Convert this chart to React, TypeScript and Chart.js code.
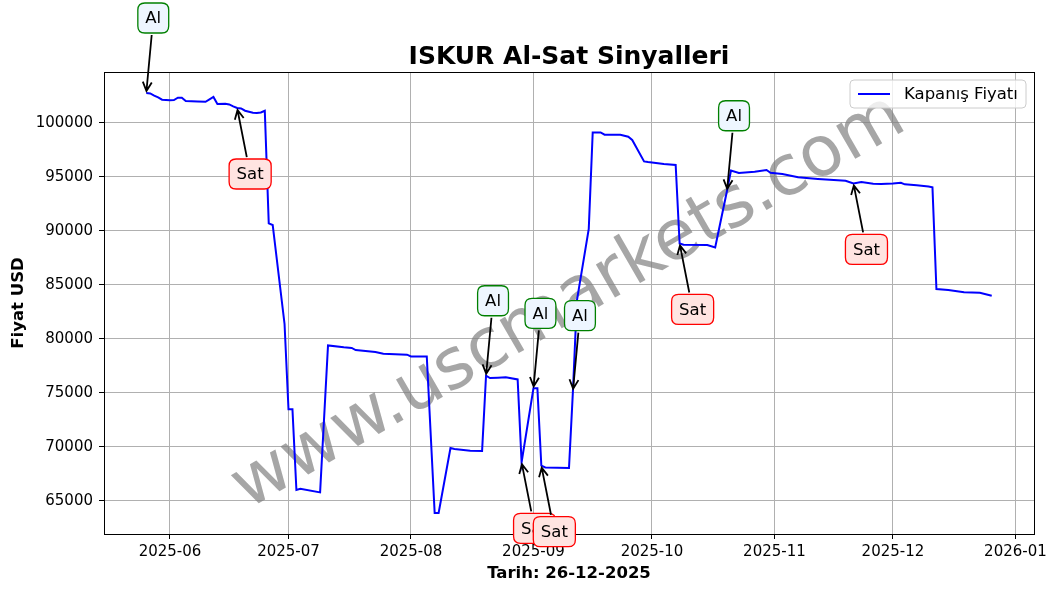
import { useEffect, useRef } from 'react';
import { Chart, registerables } from 'chart.js';

Chart.register(...registerables);

const chartTitle = 'ISKUR Al-Sat Sinyalleri';
const xTitle = 'Tarih: 26-12-2025';
const yTitle = 'Fiyat USD';
const seriesLabel = 'Kapanış Fiyatı';
const watermark = 'www.uscmarkets.com';

const dates = [
  '2025-05-26', '2025-05-27', '2025-05-28', '2025-05-29', '2025-05-30', '2025-06-01', '2025-06-02',
  '2025-06-03', '2025-06-04', '2025-06-05', '2025-06-08', '2025-06-10', '2025-06-11', '2025-06-12',
  '2025-06-13', '2025-06-15', '2025-06-16', '2025-06-17', '2025-06-18', '2025-06-19', '2025-06-20',
  '2025-06-22', '2025-06-23', '2025-06-24', '2025-06-25', '2025-06-26', '2025-06-27', '2025-06-30',
  '2025-07-01', '2025-07-02', '2025-07-03', '2025-07-04', '2025-07-09', '2025-07-11', '2025-07-15',
  '2025-07-17', '2025-07-18', '2025-07-23', '2025-07-25', '2025-07-31', '2025-08-01', '2025-08-05',
  '2025-08-07', '2025-08-08', '2025-08-11', '2025-08-12', '2025-08-16', '2025-08-19', '2025-08-20',
  '2025-08-21', '2025-08-23', '2025-08-25', '2025-08-28', '2025-08-29', '2025-09-01', '2025-09-02',
  '2025-09-03', '2025-09-04', '2025-09-10', '2025-09-11', '2025-09-12', '2025-09-15', '2025-09-16',
  '2025-09-18', '2025-09-19', '2025-09-23', '2025-09-25', '2025-09-26', '2025-09-29', '2025-09-30',
  '2025-10-02', '2025-10-04', '2025-10-07', '2025-10-08', '2025-10-09', '2025-10-15', '2025-10-17',
  '2025-10-20', '2025-10-21', '2025-10-23', '2025-10-27', '2025-10-30', '2025-10-31', '2025-11-03',
  '2025-11-07', '2025-11-12', '2025-11-19', '2025-11-21', '2025-11-23', '2025-11-26', '2025-11-28',
  '2025-12-01', '2025-12-03', '2025-12-04', '2025-12-07', '2025-12-10', '2025-12-11', '2025-12-12',
  '2025-12-15', '2025-12-19', '2025-12-23', '2025-12-26',
];

const prices = [
  102750, 102710, 102500, 102340, 102130, 102070, 102100,
  102310, 102310, 102010, 101970, 101940, 102160, 102380,
  101730, 101760, 101690, 101510, 101360, 101320, 101110,
  100930, 100900, 100950, 101110, 90680, 90530, 81360,
  73460, 73460, 65990, 66110, 65770, 79380, 79200,
  79140, 78950, 78770, 78610, 78520, 78360, 78360,
  63860, 63860, 69880, 69790, 69630, 69600, 76570,
  76360, 76390, 76420, 76230, 68550, 75400, 75400,
  68240, 68080, 68030, 75190, 83520, 90160, 99100,
  99100, 98890, 98890, 98700, 98400, 96420, 96360,
  96270, 96180, 96080, 88820, 88700, 88680, 88450,
  93700, 95560, 95340, 95460, 95620, 95370, 95250,
  94940, 94790, 94630, 94380, 94510, 94350, 94320,
  94380, 94440, 94290, 94200, 94100, 94010, 84600,
  84510, 84290, 84260, 83980,
];

const buyDates = ['2025-05-26', '2025-08-20', '2025-09-01', '2025-09-11', '2025-10-20'];
const sellDates = ['2025-06-18', '2025-08-29', '2025-09-03', '2025-10-08', '2025-11-21'];
const buyLabel = 'Al';
const sellLabel = 'Sat';

const monthTicks = [
  '2025-06-01', '2025-07-01', '2025-08-01', '2025-09-01', '2025-10-01', '2025-11-01', '2025-12-01', '2026-01-01',
];
const yTicks = [65000, 70000, 75000, 80000, 85000, 90000, 95000, 100000];

const FONT = '"DejaVu Sans", sans-serif';
const ts = (d: string) => Date.parse(d + 'T00:00:00Z');

function roundRect(ctx: CanvasRenderingContext2D, x: number, y: number, w: number, h: number, r: number) {
  ctx.beginPath();
  ctx.moveTo(x + r, y);
  ctx.lineTo(x + w - r, y);
  ctx.quadraticCurveTo(x + w, y, x + w, y + r);
  ctx.lineTo(x + w, y + h - r);
  ctx.quadraticCurveTo(x + w, y + h, x + w - r, y + h);
  ctx.lineTo(x + r, y + h);
  ctx.quadraticCurveTo(x, y + h, x, y + h - r);
  ctx.lineTo(x, y + r);
  ctx.quadraticCurveTo(x, y, x + r, y);
  ctx.closePath();
}

function drawSignal(
  chart: any, date: string, text: string, dx: number, dy: number, fill: string, edge: string,
) {
  const ctx: CanvasRenderingContext2D = chart.ctx;
  const i = dates.indexOf(date);
  if (i < 0) return;
  const px = chart.scales.x.getPixelForValue(ts(date));
  const py = chart.scales.y.getPixelForValue(prices[i]);
  const cx = px + dx;
  const cy = py + dy;
  ctx.save();
  ctx.font = `16.5px ${FONT}`;
  const tw = ctx.measureText(text).width;
  const pad = 7.5;
  const bw = tw + pad * 2;
  const bh = 15 + pad * 2;
  // arrow
  const vx = px - cx;
  const vy = py - cy;
  const len = Math.hypot(vx, vy);
  const ux = vx / len;
  const uy = vy / len;
  const t = Math.min(bw / 2 / Math.abs(vx || 1e-9), bh / 2 / Math.abs(vy || 1e-9));
  const sx = cx + vx * t + ux * 2;
  const sy = cy + vy * t + uy * 2;
  const ex = px - ux * 2;
  const ey = py - uy * 2;
  ctx.strokeStyle = '#000';
  ctx.lineWidth = 1.8;
  ctx.lineCap = 'butt';
  ctx.beginPath();
  ctx.moveTo(sx, sy);
  ctx.lineTo(ex, ey);
  const hl = 9;
  const hw = 4.5;
  const nx = -uy;
  const ny = ux;
  ctx.moveTo(ex - ux * hl + nx * hw, ey - uy * hl + ny * hw);
  ctx.lineTo(ex, ey);
  ctx.lineTo(ex - ux * hl - nx * hw, ey - uy * hl - ny * hw);
  ctx.stroke();
  // box
  roundRect(ctx, cx - bw / 2, cy - bh / 2, bw, bh, 7);
  ctx.fillStyle = fill;
  ctx.fill();
  ctx.strokeStyle = edge;
  ctx.lineWidth = 1.3;
  ctx.stroke();
  ctx.fillStyle = '#000';
  ctx.textAlign = 'center';
  ctx.textBaseline = 'middle';
  ctx.fillText(text, cx, cy + 1);
  ctx.restore();
}

const overlay = {
  id: 'overlay',
  beforeDatasetsDraw(chart: any) {
    const { ctx, chartArea: a } = chart;
    ctx.save();
    ctx.translate((a.left + a.right) / 2, (a.top + a.bottom) / 2);
    ctx.rotate((-30 * Math.PI) / 180);
    ctx.font = `70px ${FONT}`;
    ctx.fillStyle = 'rgba(128,128,128,0.7)';
    ctx.textAlign = 'center';
    ctx.textBaseline = 'middle';
    ctx.fillText(watermark, 0, 0);
    ctx.restore();
  },
  afterDatasetsDraw(chart: any) {
    const { ctx, chartArea: a } = chart;
    ctx.save();
    ctx.strokeStyle = '#000';
    ctx.lineWidth = 1;
    ctx.strokeRect(Math.round(a.left) + 0.5, Math.round(a.top) + 0.5, Math.round(a.right - a.left), Math.round(a.bottom - a.top));
    ctx.restore();
  },
  afterDraw(chart: any) {
    const { ctx, chartArea: a } = chart;
    const midX = (a.left + a.right) / 2;
    const midY = (a.top + a.bottom) / 2;
    ctx.save();
    ctx.fillStyle = '#000';
    ctx.textAlign = 'center';
    ctx.textBaseline = 'alphabetic';
    ctx.font = `bold 25px ${FONT}`;
    ctx.fillText(chartTitle, midX, a.top - 8);
    ctx.font = `bold 16.5px ${FONT}`;
    ctx.fillText(xTitle, midX, 578);
    ctx.save();
    ctx.translate(23, midY);
    ctx.rotate(-Math.PI / 2);
    ctx.fillText(yTitle, 0, 0);
    ctx.restore();

    // legend
    const lx = a.right - 184;
    const ly = a.top + 8;
    const lw = 176;
    const lh = 28;
    roundRect(ctx, lx, ly, lw, lh, 4);
    ctx.fillStyle = 'rgba(255,255,255,0.8)';
    ctx.fill();
    ctx.strokeStyle = '#cccccc';
    ctx.lineWidth = 1;
    ctx.stroke();
    ctx.strokeStyle = chart.data.datasets[0].borderColor;
    ctx.lineWidth = 2;
    ctx.beginPath();
    ctx.moveTo(lx + 8, ly + lh / 2);
    ctx.lineTo(lx + 40, ly + lh / 2);
    ctx.stroke();
    ctx.fillStyle = '#000';
    ctx.textAlign = 'left';
    ctx.textBaseline = 'middle';
    ctx.font = `16.5px ${FONT}`;
    ctx.fillText(chart.data.datasets[0].label, lx + 54, ly + lh / 2 + 1);
    ctx.restore();

    buyDates.forEach((d) => drawSignal(chart, d, buyLabel, 7, -75, '#eef6ff', '#008000'));
    sellDates.forEach((d) => drawSignal(chart, d, sellLabel, 13, 66, '#ffe4e1', '#ff0000'));
  },
};

export default function App() {
  const ref = useRef<HTMLCanvasElement | null>(null);

  useEffect(() => {
    document.body.style.margin = '0';
    const canvas = ref.current;
    if (!canvas) return;
    const xs = dates.map(ts);
    const x0 = Math.min(...xs);
    const x1 = Math.max(...xs);
    const xm = (x1 - x0) * 0.05;
    const y0 = Math.min(...prices);
    const y1 = Math.max(...prices);
    const ym = (y1 - y0) * 0.05;

    const chart = new Chart(canvas, {
      type: 'line',
      data: {
        datasets: [
          {
            label: seriesLabel,
            data: dates.map((d, i) => ({ x: ts(d), y: prices[i] })),
            borderColor: '#0000ff',
            backgroundColor: '#0000ff',
            borderWidth: 2,
            pointRadius: 0,
            tension: 0,
            fill: false,
          },
        ],
      },
      options: {
        responsive: false,
        maintainAspectRatio: false,
        devicePixelRatio: 1,
        animation: false,
        events: [],
        layout: { padding: { left: 0, right: 26, top: 72, bottom: 0 } },
        plugins: {
          legend: { display: false },
          title: { display: false },
          tooltip: { enabled: false },
        },
        scales: {
          x: {
            type: 'linear',
            min: x0 - xm,
            max: x1 + xm,
            afterBuildTicks: (s: any) => {
              s.ticks = monthTicks.map((m) => ({ value: ts(m) }));
            },
            afterFit: (s: any) => {
              s.height = 55;
            },
            ticks: {
              autoSkip: false,
              maxRotation: 0,
              minRotation: 0,
              color: '#000',
              padding: 4,
              font: { family: FONT, size: 15 },
              callback: (v: any) => new Date(Number(v)).toISOString().slice(0, 7),
            },
            grid: { color: '#b0b0b0', lineWidth: 1, tickLength: 5, tickColor: '#000' },
            border: { display: false },
          },
          y: {
            type: 'linear',
            min: y0 - ym,
            max: y1 + ym,
            afterBuildTicks: (s: any) => {
              s.ticks = yTicks.map((v) => ({ value: v }));
            },
            afterFit: (s: any) => {
              s.width = 104;
            },
            ticks: {
              color: '#000',
              padding: 6,
              font: { family: FONT, size: 15 },
              callback: (v: any) => String(v),
            },
            grid: { color: '#b0b0b0', lineWidth: 1, tickLength: 5, tickColor: '#000' },
            border: { display: false },
          },
        },
      },
      plugins: [overlay],
    });
    return () => chart.destroy();
  }, []);

  return (
    <div style={{ position: 'relative', width: 1060, height: 589 }}>
      <canvas ref={ref} width={1060} height={589} style={{ display: 'block', width: 1060, height: 589 }} />
    </div>
  );
}
